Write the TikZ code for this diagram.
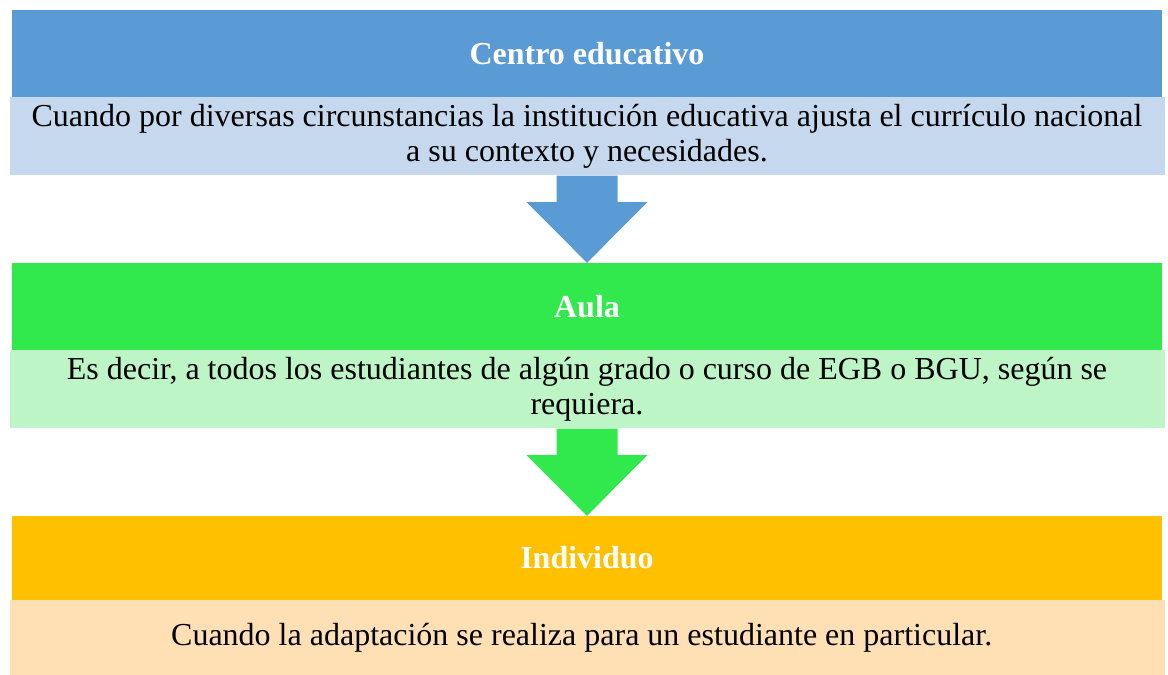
\documentclass[tikz,border=0pt]{standalone}
\usepackage{fontspec}
\setmainfont{Liberation Serif}
\usetikzlibrary{positioning,calc}
\definecolor{azulA}{RGB}{91,155,213}
\definecolor{azulB}{RGB}{197,216,238}
\definecolor{verdeA}{RGB}{49,233,77}
\definecolor{verdeB}{RGB}{190,245,199}
\definecolor{naranjaA}{RGB}{255,192,0}
\definecolor{naranjaB}{RGB}{255,224,181}
\begin{document}
\begin{tikzpicture}[x=1pt,y=-1pt, font=\fontsize{32}{34.5}\selectfont, line join=round,
	cabeza/.style={rectangle, inner sep=0pt, minimum width=1150pt, text=white, font=\fontsize{32}{34.5}\selectfont\bfseries},
	cuerpo/.style={rectangle, inner sep=0pt, minimum width=1155pt, align=center, text=black}]
	\useasboundingbox (0,0) rectangle (1168,675);
	% bloques: cabecera + texto
	\foreach \n/\y/\hh/\hb/\ca/\cb/\tit/\txt in
	{ 1/53.5/87/78/azulA/azulB/{Centro educativo}/{Cuando por diversas circunstancias la institución educativa ajusta el currículo nacional\\a su contexto y necesidades.},
		2/306.5/87/78/verdeA/verdeB/{Aula}/{Es decir, a todos los estudiantes de algún grado o curso de EGB o BGU, según se\\requiera.},
		3/558/84/75/naranjaA/naranjaB/{Individuo}/{Cuando la adaptación se realiza para un estudiante en particular.}
	}
	{
		\node[cabeza, fill=\ca, minimum height=\hh pt] (h\n) at (587,\y) {\tit};
		\node[cuerpo, fill=\cb, minimum height=\hb pt, below=0pt of h\n] (b\n) {\txt};
	}
	% flechas
	\foreach \a/\b/\c in {1/2/azulA, 2/3/verdeA}
	\fill[\c] ($(b\a.south)+(-30.5,0)$) -- ($(b\a.south)+(30.5,0)$) -- ($(b\a.south)+(30.5,26.5)$)
		-- ($(b\a.south)+(60.5,26.5)$) -- (h\b.north) -- ($(b\a.south)+(-60.5,26.5)$)
		-- ($(b\a.south)+(-30.5,26.5)$) -- cycle;
\end{tikzpicture}
\end{document}
